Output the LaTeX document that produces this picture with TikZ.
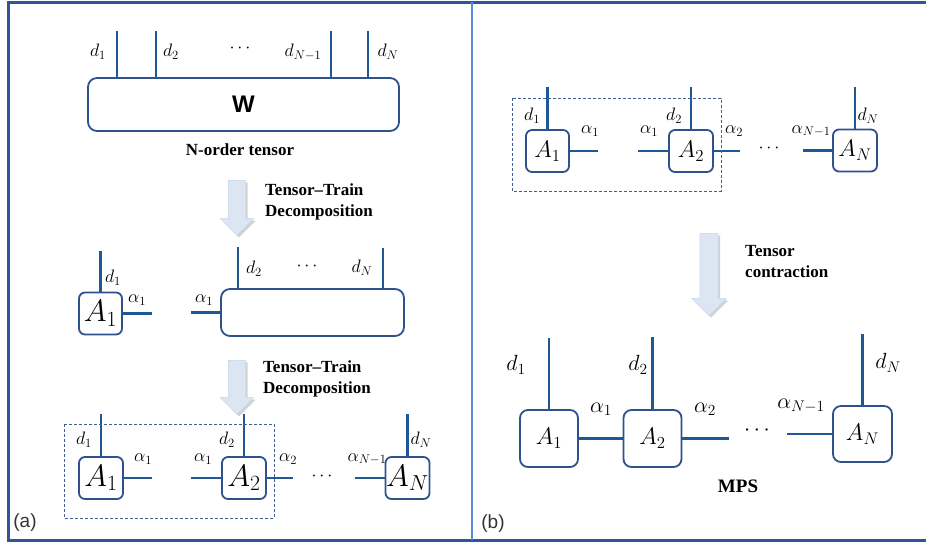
\documentclass[tikz,border=0pt]{standalone}
\usepackage{fix-cm}
\usepackage{fontspec}
\setmainfont{Liberation Serif}
\newfontfamily\sansfont{Liberation Sans}
\usepackage{tikz}
\usetikzlibrary{positioning,shapes.arrows,shadows}
\definecolor{legblue}{RGB}{31,88,150}
\definecolor{boxblue}{RGB}{47,82,143}
\definecolor{frameblue}{RGB}{46,84,158}
\definecolor{lineblue}{RGB}{91,139,218}
\definecolor{dashblue}{RGB}{68,94,150}
\definecolor{arrowfill}{RGB}{220,230,242}
\definecolor{arrowline}{RGB}{196,212,234}
\tikzstyle{core}=[draw=boxblue, line width=1.8pt, rounded corners=6pt, fill=white, minimum width=43pt, minimum height=42pt, inner sep=0pt, font=\fontsize{31}{33}\selectfont]
\tikzstyle{bcore}=[core, font=\fontsize{24}{26}\selectfont]
\tikzstyle{mpscore}=[core, minimum width=58pt, minimum height=57pt, rounded corners=8pt, font=\fontsize{24}{26}\selectfont]
\tikzstyle{wide}=[draw=boxblue, line width=1.8pt, rounded corners=9pt, fill=white, inner sep=0pt]
\tikzstyle{leg}=[draw=legblue, line width=2.6pt]
\tikzstyle{lab}=[inner sep=0pt, font=\fontsize{18}{20}\selectfont]
\tikzstyle{biglab}=[inner sep=0pt, font=\fontsize{22}{24}\selectfont]
\tikzstyle{notetext}=[inner sep=0pt, align=left, font=\bfseries\fontsize{17}{21}\selectfont]
\tikzstyle{downarrow}=[single arrow, rotate=-90, draw=arrowline, fill=arrowfill, inner sep=8.5pt, minimum width=33pt, single arrow head extend=8pt, drop shadow={shadow xshift=2pt, shadow yshift=-2pt, fill=black!35}]
\tikzstyle{dashbox}=[draw=dashblue, line width=0.8pt, dash pattern=on 3pt off 2pt]
\tikzstyle{panel}=[inner sep=0pt, text=black!80, font=\sansfont\fontsize{19}{21}\selectfont]

\begin{document}
\begin{tikzpicture}[x=1pt, y=-1pt]
	\useasboundingbox (0,0) rectangle (926,544);
	\draw[frameblue, line width=3pt] (926,2) -- (8,2) -- (8,540) -- (926,540);
	\draw[lineblue, line width=2pt] (472,2) -- (472,540);

	% (a) N-order tensor
	\node[wide, minimum width=311pt, minimum height=53pt, font=\sansfont\bfseries\fontsize{24}{26}\selectfont] (W) at (243.5,104.5) {W};
	\foreach \x/\n in {117/1,156/2,331/3,368/4}
		{\coordinate (Wt\n) at (\x,31); \draw[leg] (Wt\n) -- (Wt\n |- W.north);}
	\node[lab] (Wd1) at (98,52) {$d_1$};
	\node[lab] (Wd2) at (171,52) {$d_2$};
	\node[lab] (Wdots) at (240,48) {$\cdots$};
	\node[lab] (Wd3) at (303,52) {$d_{N-1}$};
	\node[lab] (Wd4) at (388,52) {$d_N$};
	\node[notetext] (Wcap) at (240,150) {N-order tensor};

	\node[downarrow, minimum height=55pt] (arr1) at (237,203.5) {};
	\node[notetext, anchor=west] (tt1) at (265,201.5) {Tensor--Train\\Decomposition};

	% first split
	\node[core] (S1) at (100.5,313.5) {$A_1$};
	\coordinate[above=41pt of S1.north] (S1t);
	\coordinate[right=29pt of S1.east] (S1r);
	\draw[leg] (S1t) -- (S1.north);
	\draw[leg] (S1.east) -- (S1r);
	\node[lab] (S1d) at (113,278) {$d_1$};
	\node[lab] (S1a) at (137,300) {$\alpha_1$};

	\node[wide, minimum width=183pt, minimum height=47pt] (R) at (312.5,312.5) {};
	\coordinate (Rt1) at (238,247);
	\coordinate (Rt2) at (383,248);
	\coordinate[left=29pt of R.west] (Rl);
	\draw[leg] (Rt1) -- (Rt1 |- R.north);
	\draw[leg] (Rt2) -- (Rt2 |- R.north);
	\draw[leg] (Rl) -- (R.west);
	\node[lab] (Ra) at (204,300) {$\alpha_1$};
	\node[lab] (Rd2) at (254,269) {$d_2$};
	\node[lab] (Rdots) at (307,266) {$\cdots$};
	\node[lab] (RdN) at (362,268) {$d_N$};

	\node[downarrow, minimum height=54pt] (arr2) at (237,383) {};
	\node[notetext, anchor=west] (tt2) at (263,378.5) {Tensor--Train\\Decomposition};

	% train
	\node[core, minimum width=44pt] (T1) at (101,478) {$A_1$};
	\node[core, minimum width=44pt] (T2) at (244,478) {$A_2$};
	\node[core, minimum width=44pt] (TN) at (407.5,478) {$A_N$};
	\coordinate[above=42pt of T1.north] (T1t);
	\coordinate[above=42pt of T2.north] (T2t);
	\coordinate[above=42pt of TN.north] (TNt);
	\coordinate[right=28pt of T1.east] (T1r);
	\coordinate[left=30pt of T2.west] (T2l);
	\coordinate[right=26pt of T2.east] (T2r);
	\coordinate[left=30pt of TN.west] (TNl);
	\draw[leg] (T1t) -- (T1.north);
	\draw[leg] (T2t) -- (T2.north);
	\draw[leg] (TNt) -- (TN.north);
	\draw[leg] (T1.east) -- (T1r);
	\draw[leg] (T2l) -- (T2.west);
	\draw[leg] (T2.east) -- (T2r);
	\draw[leg] (TNl) -- (TN.west);
	\draw[dashbox] (64,424) rectangle (274,518);
	\node[lab] (T1d) at (84,440) {$d_1$};
	\node[lab] (T1a) at (143,459) {$\alpha_1$};
	\node[lab] (T2a) at (203,459) {$\alpha_1$};
	\node[lab] (T2d) at (227,440) {$d_2$};
	\node[lab] (T2b) at (288,459) {$\alpha_2$};
	\node[lab] (Tdots) at (322,476) {$\cdots$};
	\node[lab] (TNa) at (367,459) {$\alpha_{N-1}$};
	\node[lab] (TNd) at (421,440) {$d_N$};
	\node[panel] (pa) at (25,523) {(a)};

	% (b) contraction
	\node[bcore] (B1) at (547.5,151) {$A_1$};
	\node[bcore, minimum width=44pt] (B2) at (691,151) {$A_2$};
	\node[bcore, minimum width=44pt] (BN) at (855,150.5) {$A_N$};
	\coordinate[above=42pt of B1.north] (B1t);
	\coordinate[above=42pt of B2.north] (B2t);
	\coordinate[above=42pt of BN.north] (BNt);
	\coordinate[right=28pt of B1.east] (B1r);
	\coordinate[left=30pt of B2.west] (B2l);
	\coordinate[right=26pt of B2.east] (B2r);
	\coordinate[left=29pt of BN.west] (BNl);
	\draw[leg] (B1t) -- (B1.north);
	\draw[leg] (B2t) -- (B2.north);
	\draw[leg] (BNt) -- (BN.north);
	\draw[leg] (B1.east) -- (B1r);
	\draw[leg] (B2l) -- (B2.west);
	\draw[leg] (B2.east) -- (B2r);
	\draw[leg] (BNl) -- (BN.west);
	\draw[dashbox] (512,98) rectangle (721,191);
	\node[lab] (B1d) at (532,116) {$d_1$};
	\node[lab] (B1a) at (590,131) {$\alpha_1$};
	\node[lab] (B2a) at (649,131) {$\alpha_1$};
	\node[lab] (B2d) at (674,116) {$d_2$};
	\node[lab] (B2b) at (734,131) {$\alpha_2$};
	\node[lab] (Bdots) at (769,148) {$\cdots$};
	\node[lab] (BNa) at (811,131) {$\alpha_{N-1}$};
	\node[lab] (BNd) at (868,116) {$d_N$};

	\node[downarrow, minimum height=82pt, inner sep=9pt, minimum width=34pt] (arr3) at (709,270) {};
	\node[notetext, anchor=west] (tt3) at (745,262) {Tensor\\contraction};

	% MPS
	\node[mpscore] (M1) at (549,438.5) {$A_1$};
	\node[mpscore] (M2) at (652.5,438.5) {$A_2$};
	\node[mpscore, minimum width=59pt, minimum height=56pt] (MN) at (862.5,434) {$A_N$};
	\coordinate[above=71pt of M1.north] (M1t);
	\coordinate[above=72pt of M2.north] (M2t);
	\coordinate[above=71pt of MN.north] (MNt);
	\coordinate[right=47pt of M2.east] (M2r);
	\coordinate[left=45pt of MN.west] (MNl);
	\draw[leg] (M1t) -- (M1.north);
	\draw[leg] (M2t) -- (M2.north);
	\draw[leg] (MNt) -- (MN.north);
	\draw[leg] (M1.east) -- (M2.west);
	\draw[leg] (M2.east) -- (M2r);
	\draw[leg] (MNl) -- (MN.west);
	\node[biglab] (M1d) at (516,365) {$d_1$};
	\node[biglab] (M2d) at (638,365) {$d_2$};
	\node[biglab] (MNd) at (888,363) {$d_N$};
	\node[biglab] (M1a) at (601,409) {$\alpha_1$};
	\node[biglab] (M2a) at (705,409) {$\alpha_2$};
	\node[biglab] (Mdots) at (757,431) {$\cdots$};
	\node[biglab] (MNa) at (801,406) {$\alpha_{N-1}$};
	\node[notetext, font=\bfseries\fontsize{19}{21}\selectfont] (mps) at (738,486) {MPS};
	\node[panel] (pb) at (493,524) {(b)};
\end{tikzpicture}
\end{document}
